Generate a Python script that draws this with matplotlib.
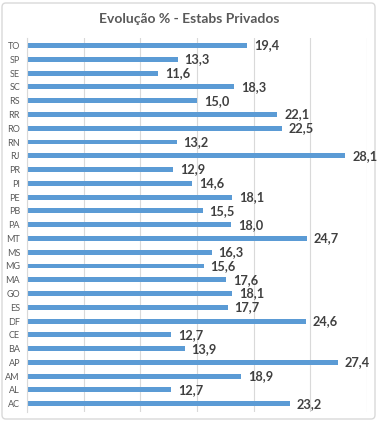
import matplotlib.pyplot as plt
from matplotlib.patches import FancyBboxPatch

plt.rcParams['font.family'] = ['Lato', 'DejaVu Sans']

# data, bottom to top
states = ['AC', 'AL', 'AM', 'AP', 'BA', 'CE', 'DF', 'ES', 'GO', 'MA', 'MG', 'MS', 'MT',
          'PA', 'PB', 'PE', 'PI', 'PR', 'RJ', 'RN', 'RO', 'RR', 'RS', 'SC', 'SE', 'SP', 'TO']
values = [23.2, 12.7, 18.9, 27.4, 13.9, 12.7, 24.6, 17.7, 18.1, 17.6, 15.6, 16.3, 24.7,
          18.0, 15.5, 18.1, 14.6, 12.9, 28.1, 13.2, 22.5, 22.1, 15.0, 18.3, 11.6, 13.3, 19.4]

W, H = 378, 421
fig = plt.figure(figsize=(W / 100, H / 100), dpi=100)
fig.patch.set_facecolor('white')

# light frame round the chart
frame = FancyBboxPatch((2 / W, 2 / H), 1 - 5 / W, 1 - 5 / H,
                       boxstyle="round,pad=0,rounding_size=0.01",
                       transform=fig.transFigure, facecolor='none',
                       edgecolor='#d9d9d9', linewidth=1, zorder=-1)
fig.patches.append(frame)

ax = fig.add_axes([27 / W, 1 - 412 / H, 340 / W, 374 / H])
ax.patch.set_alpha(0)
ypos = range(len(states))
ax.barh(ypos, values, height=0.36, color='#5b9bd5', zorder=2)

for y, v in zip(ypos, values):
    ax.text(v + 0.6, y, f'{v:.1f}'.replace('.', ','), va='center', ha='left',
            fontsize=9.2, fontweight='bold', color='#404040')

ax.set_xlim(0, 30)
ax.set_ylim(-0.6, len(states) - 0.45)
ax.set_xticks([0, 5, 10, 15, 20, 25, 30])
ax.set_xticklabels([])
ax.grid(axis='x', color='#d9d9d9', linewidth=0.8, zorder=0)
ax.set_yticks(list(ypos))
ax.set_yticklabels(states, fontsize=6.5, color='#595959')
ax.tick_params(length=0, pad=5)
for s in ax.spines.values():
    s.set_visible(False)
ax.spines['left'].set_visible(True)
ax.spines['left'].set_color('#d9d9d9')

fig.text(0.5, 1 - 19 / H, 'Evolução % - Estabs Privados', ha='center', va='center',
         fontsize=10, fontweight='bold', color='#595959')

fig.savefig('out.png', dpi=100)
